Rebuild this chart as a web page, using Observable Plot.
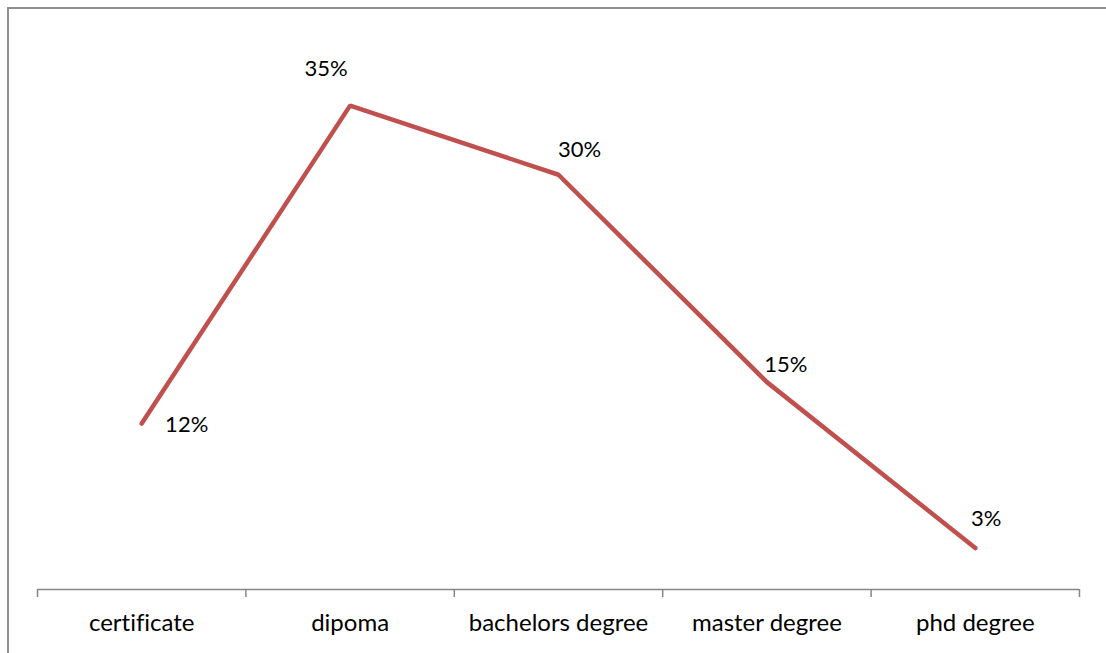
<!DOCTYPE html>
<html>
<head>
<meta charset="utf-8">
<script src="https://cdn.jsdelivr.net/npm/d3@7"></script>
<script src="https://cdn.jsdelivr.net/npm/@observablehq/plot@0.6"></script>
<style>
  html, body { margin: 0; padding: 0; background: #fff; overflow: hidden; }
  #chart { position: relative; width: 1106px; height: 653px; }
  #chart svg { display: block; font-variant-ligatures: none; }
  /* chart-area border, open to the right and bottom */
  #chart .border {
    position: absolute; left: 7px; top: 7px; width: 1300px; height: 900px;
    border-left: 2px solid #8e8e8e; border-top: 2px solid #8e8e8e;
    pointer-events: none;
  }
</style>
</head>
<body>
<div id="chart"><div class="border"></div></div>
<script>
// Education level shares
const categories = ["certificate", "dipoma", "bachelors degree", "master degree", "phd degree"];
const shares = [0.12, 0.35, 0.30, 0.15, 0.03];

// Per-point label nudges [dx, dy] in pixels
const labelOffsets = [[45, 1], [-24, -37], [21, -25], [19, -17], [11, -29]];

const data = categories.map((category, index) => ({category, index, share: shares[index]}));
const center = d => d.index + 0.5;
const pct = d3.format(".0%");

const chart = Plot.plot({
  width: 1106,
  height: 653,
  marginLeft: 37,
  marginRight: 27,
  marginTop: 36,
  marginBottom: 64,
  style: {fontFamily: "Lato", fontSize: "22px", background: "transparent", color: "#000"},
  x: {domain: [0, categories.length]},
  y: {domain: [0, 0.4], axis: null},
  marks: [
    Plot.ruleY([0], {stroke: "#868686", strokeWidth: 1.5}),
    Plot.axisX({
      ticks: d3.range(categories.length + 1),
      tickSize: 8,
      tickFormat: () => "",
      stroke: "#868686",
      strokeWidth: 1.5,
      label: null
    }),
    Plot.text(data, {x: center, y: () => 0, text: "category", dy: 34, fontSize: 24, fill: "#000"}),
    Plot.line(data, {
      x: center, y: "share",
      stroke: "#C0504D", strokeWidth: 4.5,
      strokeLinejoin: "miter", strokeLinecap: "round"
    }),
    ...labelOffsets.map(([dx, dy], i) =>
      Plot.text([data[i]], {x: center, y: "share", text: d => pct(d.share), dx, dy, fill: "#000"})
    )
  ]
});

document.getElementById("chart").appendChild(chart);
</script>
</body>
</html>
